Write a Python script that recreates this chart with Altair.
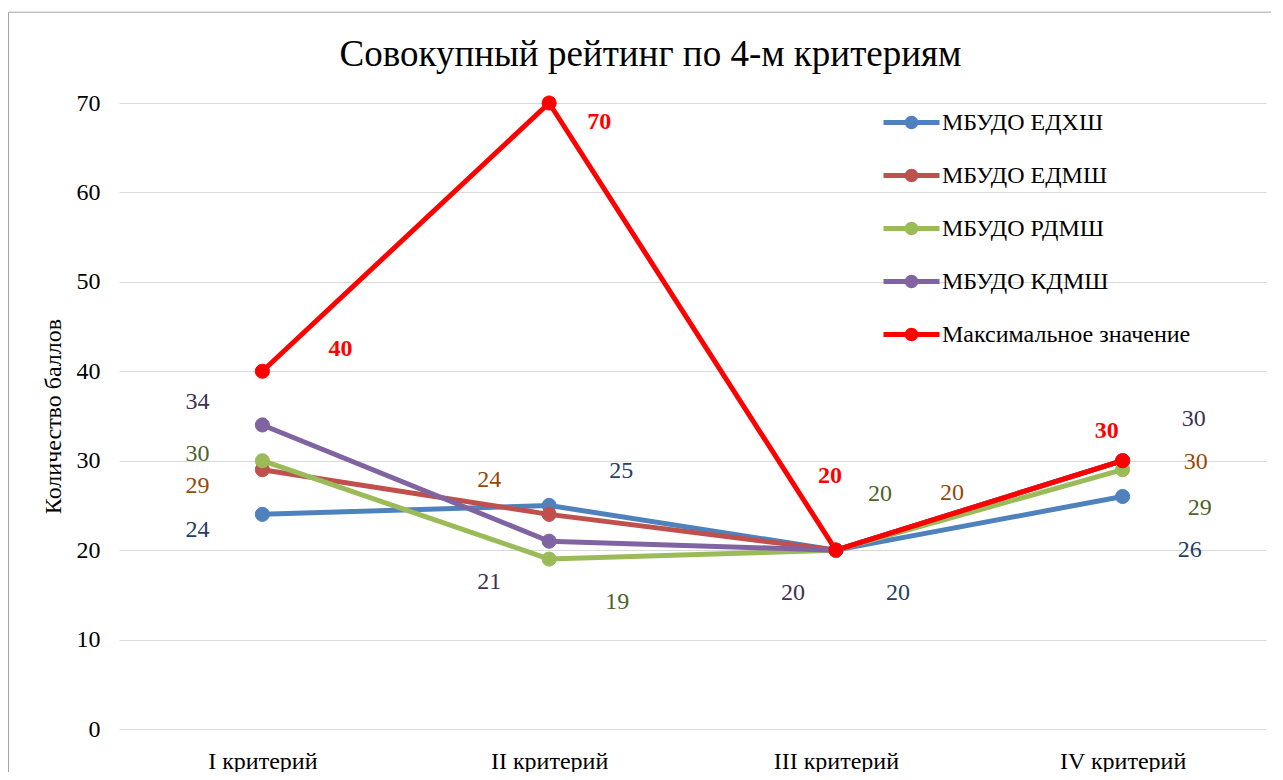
import altair as alt
import pandas as pd

categories = ["I критерий", "II критерий", "III критерий", "IV критерий"]
series_names = ["МБУДО ЕДХШ", "МБУДО ЕДМШ", "МБУДО РДМШ", "МБУДО КДМШ", "Максимальное значение"]
edhsh = [24, 25, 20, 26]
edmsh = [29, 24, 20, 30]
rdmsh = [30, 19, 20, 29]
kdmsh = [34, 21, 20, 30]
max_vals = [40, 70, 20, 30]
y_ticks = [0, 10, 20, 30, 40, 50, 60, 70]

line_colors = ["#4F81BD", "#C0504D", "#9BBB59", "#8064A2", "#FF0000"]
label_colors = ["#254061", "#984807", "#4F6228", "#3F3151", "#FF0000"]

# data-label offsets (pixels) from their points, one list per series
label_dx = [[-65, 72, 62, 67], [-65, -60, 116, 73], [-65, 68, 44, 77], [-65, -60, -43, 71], [78, 50, -6, -16]]
label_dy = [[16, -34, 43, 54], [16, -34, -57, 1], [-7, 43, -56, 38], [-23, 41, 43, -42], [-22, 19, -74, -30]]

all_values = [edhsh, edmsh, rdmsh, kdmsh, max_vals]
rows = []
for s, name in enumerate(series_names):
    for i, cat in enumerate(categories):
        rows.append({"series": name, "category": cat, "idx": i, "value": all_values[s][i],
                     "dx": label_dx[s][i], "dy": label_dy[s][i],
                     "is_max": name == "Максимальное значение"})
df = pd.DataFrame(rows)

FONT = "Liberation Serif"
W, H = 1147, 626
Y_MAX = 70

x_enc = alt.X("category:N", sort=categories,
              scale=alt.Scale(type="point", domain=categories, padding=0.5),
              axis=alt.Axis(title=None, grid=False, ticks=False, domain=False,
                            labelFont=FONT, labelFontSize=24, labelColor="#000000",
                            labelBaseline="alphabetic", labelPadding=39, labelAngle=0))
y_scale = alt.Scale(domain=[0, Y_MAX], nice=False, zero=True)
y_axis = alt.Axis(values=y_ticks, grid=True, gridColor="#D9D9D9", gridWidth=1,
                  ticks=False, domain=False, labelFont=FONT, labelFontSize=24,
                  labelColor="#000000", labelPadding=19,
                  title="Количество баллов", titleFont=FONT, titleFontSize=24,
                  titleFontWeight="normal", titleColor="#000000",
                  titleX=-66, titleY=313, titleAlign="center",
                  titleBaseline="middle", titleAngle=270)
y_enc = alt.Y("value:Q", scale=y_scale, axis=y_axis)

stroke_scale = alt.Scale(domain=series_names, range=line_colors)
legend_path = "M-2,0L2,0M0.31,0A0.31,0.31,0,1,1,-0.31,0A0.31,0.31,0,1,1,0.31,0Z"
leg = alt.Legend(title=None, orient="none", legendX=776, legendY=3, padding=0,
                 symbolType=legend_path, symbolSize=784, symbolStrokeWidth=5,
                 labelFont=FONT, labelFontSize=24, labelColor="#000000",
                 labelOffset=14, rowPadding=22, labelLimit=400, symbolOpacity=1)

base = alt.Chart(df)

border = alt.Chart(pd.DataFrame({"a": [0]})).mark_rect(
    fill="transparent", stroke="#A6A6A6", strokeWidth=1
).encode(x=alt.value(-110.5), x2=alt.value(W + 40), y=alt.value(-90.8), y2=alt.value(H + 80))

lines = base.mark_line(strokeWidth=5, strokeJoin="round", strokeCap="round").encode(
    x=x_enc, y=y_enc,
    stroke=alt.Stroke("series:N", scale=stroke_scale, sort=series_names, legend=leg),
    order=alt.Order("idx:Q"),
)

points = base.mark_point(filled=True, size=200, opacity=1, strokeWidth=1).encode(
    x=x_enc, y=y_enc,
    fill=alt.Fill("series:N", scale=alt.Scale(domain=series_names, range=line_colors),
                  sort=series_names, legend=leg),
    stroke=alt.Stroke("series:N", scale=stroke_scale, sort=series_names, legend=leg),
)

label_scale = alt.Scale(domain=series_names, range=label_colors)
label_y = alt.Y("ly:Q", scale=y_scale, axis=y_axis)


def label_layer(is_max):
    return base.transform_filter(
        "datum.is_max" if is_max else "!datum.is_max"
    ).transform_calculate(
        ly=f"datum.value - datum.dy * {Y_MAX} / {H}"
    ).mark_text(
        font=FONT, fontSize=24, fontWeight="bold" if is_max else "normal",
        baseline="middle", align="center"
    ).encode(
        x=x_enc, y=label_y, text="value:Q",
        xOffset=alt.XOffset("dx:Q", scale=None),
        color=alt.Color("series:N", scale=label_scale, legend=None),
    )


labels = label_layer(False)
max_labels = label_layer(True)

chart = alt.layer(border, lines, points, labels, max_labels).properties(
    width=W, height=H,
    title=alt.TitleParams("Совокупный рейтинг по 4-м критериям", font=FONT, fontSize=37,
                          fontWeight="normal", color="#000000", anchor="middle",
                          frame="group", dx=-42, offset=-91, baseline="alphabetic"),
    autosize=alt.AutoSizeParams(type="none"),
    padding={"left": 111, "top": 95, "right": 5, "bottom": 43},
).configure(
    background="#FFFFFF",
    view=alt.ViewConfig(stroke="transparent", strokeWidth=0),
)

chart.save("out.html", embed_options={"renderer": "svg", "actions": False})
